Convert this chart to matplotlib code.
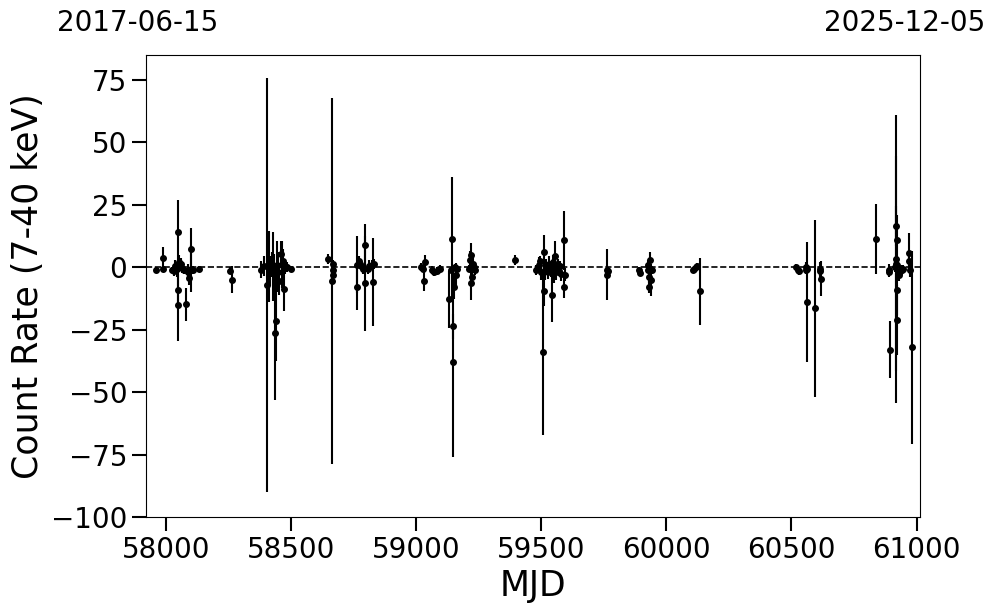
import matplotlib
matplotlib.use("Agg")
import matplotlib.pyplot as plt
import numpy as np

mjd = [
    57961, 57988, 57989, 58024, 58030, 58036, 58044, 58046, 58047, 58048,
    58052, 58058, 58064, 58070, 58081, 58086, 58091, 58098, 58100, 58106, 58130,
    58256, 58264,
    58379, 58390, 58402, 58410, 58416, 58422, 58428, 58432, 58436, 58440,
    58444, 58448, 58452, 58458, 58462, 58466, 58472, 58476, 58484, 58500,
    58645, 58664, 58666, 58667, 58668,
    58762, 58763, 58770, 58774, 58780, 58785, 58794, 58795, 58806, 58811,
    58822, 58827, 58831,
    59020, 59028, 59030, 59033, 59064, 59070, 59081, 59094,
    59130, 59140, 59144, 59145, 59146, 59150, 59154, 59157, 59162,
    59210, 59215, 59217, 59220, 59223, 59226, 59230, 59234,
    59396,
    59480, 59490, 59493, 59500, 59507, 59510, 59512, 59515, 59520, 59526,
    59532, 59538, 59543, 59548, 59552, 59556, 59560, 59565, 59570, 59575,
    59580, 59589, 59590, 59596,
    59762, 59764, 59766,
    59892, 59894, 59925, 59928, 59930, 59932, 59935, 59937, 59941,
    60105, 60112, 60118, 60121, 60136,
    60520, 60525, 60530, 60558, 60560, 60562, 60564, 60593, 60614, 60616, 60618,
    60836, 60888, 60890, 60892, 60914, 60917, 60918, 60919, 60920, 60921,
    60922, 60923, 60930, 60935, 60940, 60945, 60968, 60970, 60972, 60980,
]
rate = [
    -0.9, 3.8, -0.6, -1.0, -1.5, 0.5, -0.8, -9.3, 14.1, -15.3,
    2.0, 1.5, -0.2, -1.2, -14.9, -2.0, -4.2, 7.4, -0.5, -1.0, -0.6,
    -1.3, -4.9,
    -0.9, 0.5, -7.2, 0.2, -1.5, 1.0, 0.3, -2.5, -26.3, -21.4,
    1.0, -2.0, -5.6, 5.5, 1.0, 2.5, -8.9, 0.5, 0.2, -0.5,
    3.5, -5.6, 1.5, -1.0, -2.9,
    -7.8, 1.0, 2.5, 1.5, 0.5, -0.5, 8.8, -6.5, -0.5, 0.5,
    1.0, -5.8, 1.2,
    0.2, -0.5, -5.6, 2.0, -1.0, -2.0, -1.5, -0.5,
    -12.9, -0.9, 11.4, -37.9, -23.6, -7.8, 0.0, -2.9, -0.5,
    -0.5, 3.1, -6.2, 5.1, -4.0, 1.5, 0.0, -1.0,
    3.1,
    -1.0, 1.0, 2.5, -2.0, -34.1, 6.1, -9.6, -1.0, 0.5, -2.0,
    1.5, -1.5, -11.3, 2.0, -0.5, 4.5, -2.0, 1.0, -1.5, 0.5,
    -2.5, 10.8, -7.8, -2.9,
    -0.9, -3.0, -1.5,
    -0.9, -2.2, -0.9, 1.1, -3.7, -7.8, 3.1, -5.2, -1.0,
    -0.9, -0.5, 0.0, 0.6, -9.7,
    0.0, -1.0, -1.6, -1.0, 0.2, -13.9, -0.8, -16.5, -1.5, -0.8, -4.6,
    11.2, -1.2, -1.8, -33.0, 0.0, 1.5, 3.3, 16.4, 11.0, 1.1,
    -9.2, -21.2, -3.0, -1.5, -1.0, -0.5, 5.8, 2.5, -0.9, -32.1,
]
err = [
    1.0, 4.5, 1.2, 1.2, 1.8, 2.5, 3.0, 6.5, 12.7, 14.4,
    3.0, 2.2, 2.0, 1.6, 6.7, 3.5, 3.0, 8.2, 9.5, 1.5, 1.0,
    1.5, 5.5,
    3.5, 4.0, 82.8, 14.3, 6.0, 5.0, 13.8, 8.0, 27.0, 16.0,
    9.5, 8.0, 5.5, 5.0, 9.5, 5.0, 8.8, 3.0, 2.0, 1.2,
    2.0, 73.3, 1.5, 1.5, 2.0,
    9.5, 11.5, 2.0, 2.0, 1.5, 2.0, 8.4, 19.0, 2.0, 2.5,
    2.0, 17.7, 2.0,
    1.5, 1.5, 4.0, 3.0, 1.5, 1.5, 1.5, 1.5,
    11.5, 1.0, 24.8, 38.0, 5.0, 5.0, 1.5, 4.5, 1.5,
    1.5, 3.5, 6.8, 4.5, 3.0, 2.5, 1.5, 2.0,
    2.0,
    2.0, 3.0, 2.0, 3.0, 33.0, 7.0, 6.0, 4.0, 3.0, 2.5,
    3.0, 2.5, 10.6, 3.0, 6.0, 6.0, 3.0, 2.5, 2.0, 2.0,
    3.0, 11.7, 4.5, 2.5,
    2.0, 10.3, 1.5,
    1.0, 1.0, 1.5, 2.0, 2.5, 2.5, 3.0, 6.5, 1.5,
    1.0, 1.0, 1.0, 1.0, 13.4,
    1.5, 1.5, 1.5, 1.5, 2.0, 24.0, 1.5, 35.5, 2.0, 3.0, 7.0,
    14.0, 2.5, 1.5, 11.3, 2.0, 43.0, 57.5, 8.0, 10.0, 3.0,
    10.0, 14.0, 2.5, 2.0, 2.0, 1.5, 7.8, 4.0, 3.0, 38.7,
]

mjd_start, mjd_end = 57919, 61014
date_start, date_end = "2017-06-15", "2025-12-05"

fig = plt.figure(figsize=(9.97, 6.13), dpi=100)
ax = fig.add_axes([0.1464, 0.1566, 0.7764, 0.7537])

ax.errorbar(np.array(mjd), np.array(rate), yerr=np.array(err), fmt="o",
            color="black", ms=4, elinewidth=1.5, capsize=0)
ax.axhline(0, color="black", ls="--", lw=1.2, zorder=0)

ax.set_xlim(mjd_start, mjd_end)
ax.set_ylim(-100, 85)
ax.set_xticks([58000, 58500, 59000, 59500, 60000, 60500, 61000])
ax.set_yticks([-100, -75, -50, -25, 0, 25, 50, 75])
ax.tick_params(labelsize=20, length=10, width=1.5)
ax.set_xlabel("MJD", fontsize=25)
ax.set_ylabel("Count Rate (7-40 keV)", fontsize=25)

fig.text(0.057, 0.963, date_start, fontsize=20, ha="left", va="center")
fig.text(0.988, 0.963, date_end, fontsize=20, ha="right", va="center")

fig.savefig("out.png", dpi=100)
